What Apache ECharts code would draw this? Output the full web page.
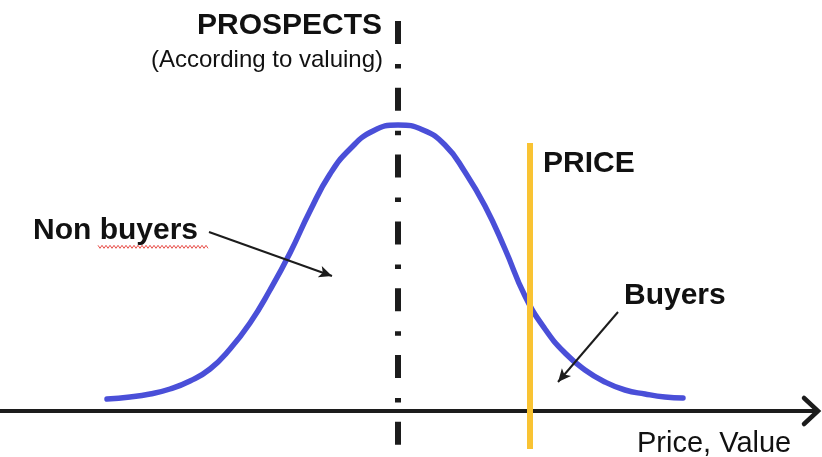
<!DOCTYPE html>
<html>
<head>
<meta charset="utf-8">
<style>
  html, body { margin: 0; padding: 0; background: #ffffff; }
  #chart { width: 822px; height: 457px; }
</style>
<script src="https://cdn.jsdelivr.net/npm/echarts@6/dist/echarts.min.js"></script>
</head>
<body>
<div id="chart"></div>
<script>
// Distribution of prospects over price / value (x), height = number of prospects
const curveX = [107, 130, 150, 170, 190, 210, 230, 250, 270, 290, 310, 330, 350, 373, 398,
                423, 445, 465, 485, 505, 525, 545, 565, 585, 605, 625, 645, 665, 683];
const curveY = [12, 14, 17, 22, 30, 42, 62, 88, 121, 158, 200, 237, 262, 280, 286,
                281, 266, 239, 205, 162, 115, 82, 58, 41, 29, 21, 17, 14, 13];

// Central valuation of the prospects and the asking price
const prospectsValue = 398;
const prospectsSpan = [390, -36];
const priceValue = 530;
const priceSpan = [268, -38];

// Annotation arrows: [from, to] in chart units
const nonBuyersArrow = [[209, 179], [332, 135]];
const buyersArrow = [[618, 99], [558, 29]];

const xRange = [0, 815];
const yRange = [-46, 411];

const FONT = '"Liberation Sans", Arial, Helvetica, sans-serif';
const INK = '#1c1c1c';

const chart = echarts.init(document.getElementById('chart'), null, { renderer: 'canvas' });

const curveData = curveX.map((x, i) => [x, curveY[i]]);

function arrowLine(pts) {
  return [{ coord: pts[0] }, { coord: pts[1] }];
}

chart.setOption({
  animation: false,
  backgroundColor: '#ffffff',
  grid: { left: 0, right: 7, top: 0, bottom: 0 },
  xAxis: {
    type: 'value',
    min: xRange[0],
    max: xRange[1],
    axisLine: { show: true, onZero: true, lineStyle: { color: INK, width: 4 } },
    axisTick: { show: false },
    axisLabel: { show: false },
    splitLine: { show: false }
  },
  yAxis: {
    type: 'value',
    min: yRange[0],
    max: yRange[1],
    show: false,
    splitLine: { show: false }
  },
  series: [
    {
      name: 'Prospects',
      type: 'line',
      data: curveData,
      smooth: 0.5,
      symbol: 'none',
      lineStyle: { color: '#4a4fd8', width: 5.5, cap: 'round', join: 'round' },
      z: 2,
      markLine: {
        silent: true,
        symbol: ['none', 'arrow'],
        symbolSize: [9, 13],
        label: { show: false },
        lineStyle: { color: INK, width: 2, type: 'solid' },
        data: [arrowLine(nonBuyersArrow), arrowLine(buyersArrow)]
      }
    },
    {
      name: 'Prospects centre',
      type: 'line',
      data: [[prospectsValue, prospectsSpan[0]], [prospectsValue, prospectsSpan[1]]],
      symbol: 'none',
      lineStyle: { color: INK, width: 6, type: [23, 20, 4.5, 19.3], cap: 'butt' },
      z: 3
    },
    {
      name: 'Price',
      type: 'line',
      data: [[priceValue, priceSpan[0]], [priceValue, priceSpan[1]]],
      symbol: 'none',
      lineStyle: { color: '#f9c333', width: 6, cap: 'butt' },
      z: 4
    }
  ]
});

// Text labels, spell-check squiggle and axis arrowhead
const axisEnd = chart.convertToPixel({ gridIndex: 0 }, [xRange[1], 0]);
const squiggle = [];
for (let x = 98, k = 0; x <= 208; x += 2, k++) {
  squiggle.push([x, k % 2 === 0 ? 245.3 : 248.3]);
}

function label(text, x, y, size, weight, align) {
  return {
    type: 'text',
    x: x,
    y: y,
    style: {
      text: text,
      font: weight + ' ' + size + 'px ' + FONT,
      fill: '#111111',
      align: align,
      textAlign: align,
      verticalAlign: 'middle',
      textVerticalAlign: 'middle'
    },
    z: 10
  };
}

chart.setOption({
  graphic: [
    label('PROSPECTS', 382, 26, 30, 'bold', 'right'),
    label('(According to valuing)', 383, 60, 24, 'normal', 'right'),
    label('PRICE', 543, 164, 30, 'bold', 'left'),
    label('Non buyers', 33, 231, 30, 'bold', 'left'),
    label('Buyers', 624, 296, 30, 'bold', 'left'),
    label('Price, Value', 637, 444, 29, 'normal', 'left'),
    {
      type: 'polyline',
      shape: { points: squiggle },
      style: { stroke: '#e8504a', lineWidth: 1, fill: null },
      z: 9
    },
    {
      type: 'polyline',
      shape: {
        points: [
          [axisEnd[0] - 11, axisEnd[1] - 13],
          [axisEnd[0] + 3, axisEnd[1]],
          [axisEnd[0] - 11, axisEnd[1] + 13]
        ]
      },
      style: { stroke: INK, lineWidth: 4.5, fill: null, lineJoin: 'miter', lineCap: 'round' },
      z: 9
    }
  ]
});
</script>
</body>
</html>
